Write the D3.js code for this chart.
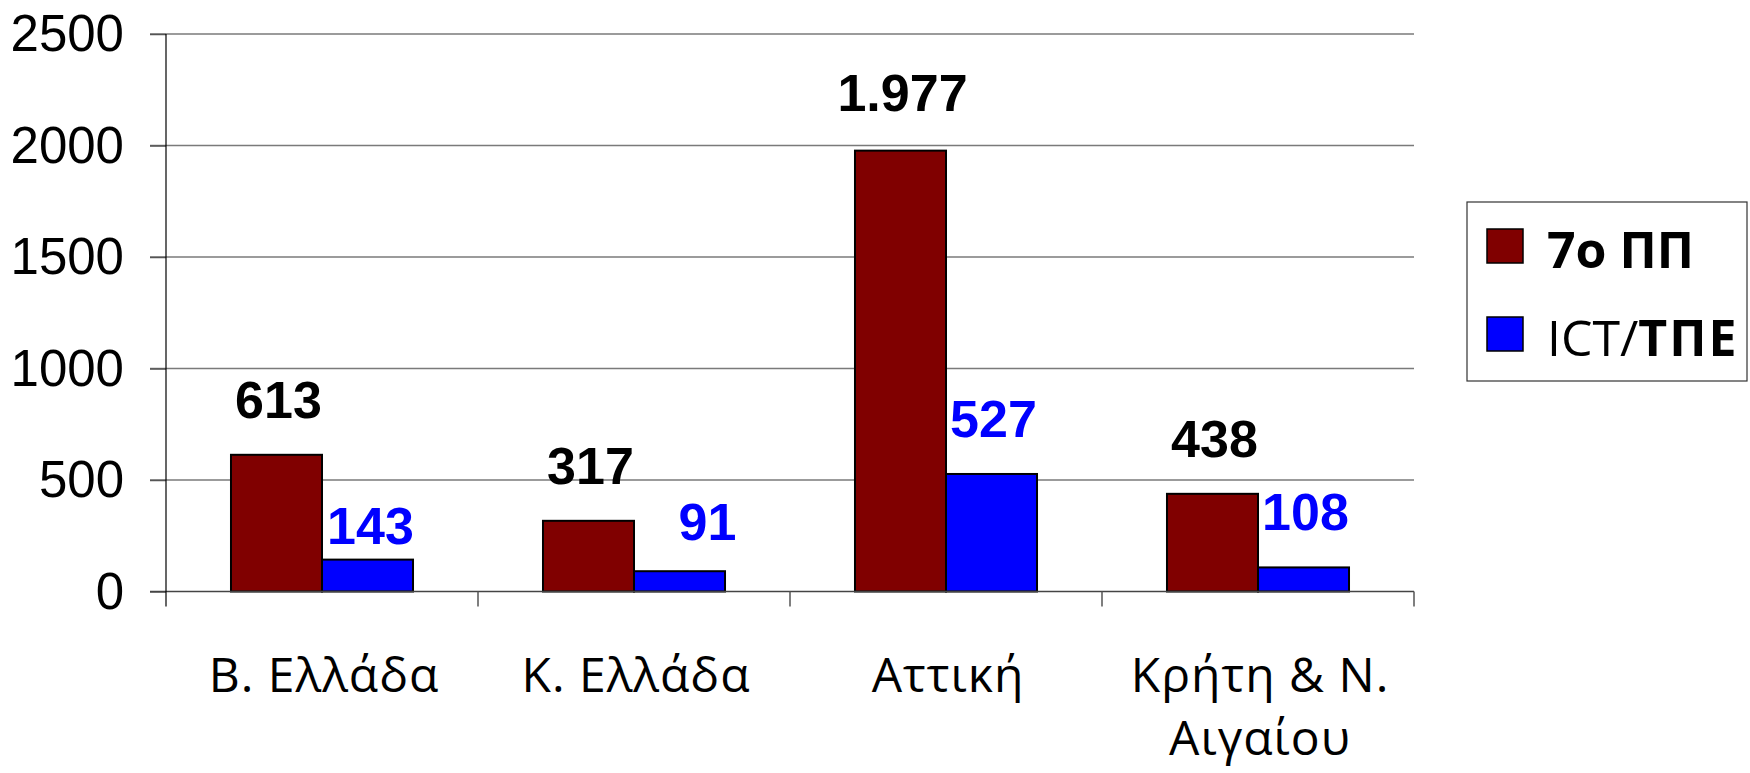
<!DOCTYPE html>
<html><head><meta charset="utf-8">
<script src="https://cdn.jsdelivr.net/npm/d3@7"></script>
<style>body{margin:0;background:#fff;overflow:hidden}</style>
</head><body><svg id="c" width="1750" height="773"></svg>
<script>
const categories = ["Β. Ελλάδα", "Κ. Ελλάδα", "Αττική", "Κρήτη & Ν. Αιγαίου"];
const seriesNames = ["7ο ΠΠ", "ICT/ΤΠΕ"];
const values7PP = [613, 317, 1977, 438];
const valuesICT = [143, 91, 527, 108];
const labels7PP = ["613", "317", "1.977", "438"];
const labelsICT = ["143", "91", "527", "108"];
const yTicks = [0, 500, 1000, 1500, 2000, 2500];

const colors = ["#800000", "#0000FF"];
const labelColors = ["#000000", "#0000FF"];
const seriesValues = [values7PP, valuesICT];
const seriesLabels = [labels7PP, labelsICT];
// manual label nudges (series index, category index) -> [dx, dy]
const nudges = {"1-0": [1, 21], "1-1": [26, 6], "0-2": [0, -3]};

const svg = d3.select("#c");
const plot = {left: 166, right: 1414, top: 34, bottom: 591.5};

const y = d3.scaleLinear().domain([0, 2500]).range([plot.bottom, plot.top]);
const x0 = d3.scaleBand().domain(categories).range([plot.left, plot.right]).padding(0);
const x1 = d3.scaleBand().domain(seriesNames).range([0, x0.bandwidth()]).paddingInner(0).paddingOuter(0.714);

// gridlines
svg.append("g").selectAll("line").data(yTicks.filter(d => d > 0)).join("line")
  .attr("x1", plot.left - 16).attr("x2", plot.right)
  .attr("y1", d => y(d)).attr("y2", d => y(d))
  .attr("stroke", "#7a7a7a").attr("stroke-width", 1.5);

// y axis labels + ticks
const yAxis = d3.axisLeft(y).tickValues(yTicks).tickSize(16).tickPadding(26).tickFormat(d3.format("d"));
const gy = svg.append("g").attr("transform", `translate(${plot.left},0)`).call(yAxis);
gy.select(".domain").remove();
gy.selectAll(".tick line").attr("stroke", "#555").attr("stroke-width", 1.5);
gy.selectAll(".tick text").attr("font-family", "'Liberation Sans', Arial, sans-serif")
  .attr("font-size", 51).attr("fill", "#000").attr("dy", "0.33em");

// bars
const groups = svg.append("g").selectAll("g").data(categories).join("g")
  .attr("transform", d => `translate(${x0(d)},0)`);
groups.selectAll("rect").data((c, i) => seriesNames.map((s, k) => ({s, k, v: seriesValues[k][i]})))
  .join("rect")
  .attr("x", d => x1(d.s)).attr("width", x1.bandwidth())
  .attr("y", d => y(d.v)).attr("height", d => y(0) - y(d.v))
  .attr("fill", d => colors[d.k]).attr("stroke", "#000").attr("stroke-width", 2);

// baseline
svg.append("line").attr("x1", plot.left - 16).attr("x2", plot.right)
  .attr("y1", y(0)).attr("y2", y(0)).attr("stroke", "#444").attr("stroke-width", 1.5);
// y axis line
svg.append("line").attr("x1", plot.left).attr("x2", plot.left)
  .attr("y1", plot.top).attr("y2", y(0) + 15).attr("stroke", "#000").attr("stroke-width", 1.2);
// x ticks
const xTickPos = categories.map(c => x0(c)).concat([plot.right]);
svg.append("g").selectAll("line").data(xTickPos.slice(1)).join("line")
  .attr("x1", d => d).attr("x2", d => d).attr("y1", y(0)).attr("y2", y(0) + 15)
  .attr("stroke", "#555").attr("stroke-width", 1.5);

// value labels
categories.forEach((c, i) => {
  seriesNames.forEach((s, k) => {
    const n = nudges[k + "-" + i] || [0, 0];
    svg.append("text")
      .attr("x", x0(c) + x1(s) + x1.bandwidth() / 2 + 2 + n[0])
      .attr("y", y(seriesValues[k][i]) - 37 + n[1])
      .attr("text-anchor", "middle")
      .attr("font-family", "'Liberation Sans', Arial, sans-serif")
      .attr("font-weight", "bold").attr("font-size", 52)
      .attr("fill", labelColors[k])
      .text(seriesLabels[k][i]);
  });
});

// category labels (wrapped)
const catFont = "'Open Sans', 'Noto Sans', sans-serif";
const catSize = 48, catSpacing = 1;
categories.forEach(c => {
  const cx = x0(c) + x0.bandwidth() / 2 + 2;
  const t = svg.append("text").attr("text-anchor", "middle")
    .attr("font-family", catFont).attr("font-size", catSize).attr("letter-spacing", catSpacing)
    .attr("fill", "#000").attr("x", cx).attr("y", 692);
  const words = c.split(" ");
  let lines = [], cur = [];
  const probe = svg.append("text").attr("font-family", catFont).attr("font-size", catSize).attr("letter-spacing", catSpacing);
  words.forEach(w => {
    const test = cur.concat([w]).join(" ");
    probe.text(test);
    if (probe.node().getComputedTextLength() > x0.bandwidth() - 10 && cur.length) {
      lines.push(cur.join(" ")); cur = [w];
    } else cur.push(w);
  });
  lines.push(cur.join(" "));
  probe.remove();
  lines.forEach((l, j) => {
    t.append("tspan").attr("x", cx).attr("dy", j === 0 ? 0 : 63).text(l);
  });
});

// legend
const lg = svg.append("g");
lg.append("rect").attr("x", 1467).attr("y", 202).attr("width", 280).attr("height", 179)
  .attr("fill", "#fff").attr("stroke", "#333").attr("stroke-width", 1.2);
seriesNames.forEach((s, k) => {
  const yy = 229 + k * 88;
  lg.append("rect").attr("x", 1487).attr("y", yy).attr("width", 36).attr("height", 34)
    .attr("fill", colors[k]).attr("stroke", "#000").attr("stroke-width", 1.5);
  const t = lg.append("text").attr("x", 1547).attr("y", yy + 38.5)
    .attr("font-family", catFont).attr("font-size", 50).attr("fill", "#000");
  if (s.includes("/")) {
    const parts = s.split("/");
    t.append("tspan").attr("font-weight", "normal").text(parts[0] + "/");
    t.append("tspan").attr("font-weight", "bold").attr("letter-spacing", 2).text(parts[1]);
  } else {
    t.append("tspan").attr("font-weight", "bold").text(s);
  }
});
</script>
</body></html>
